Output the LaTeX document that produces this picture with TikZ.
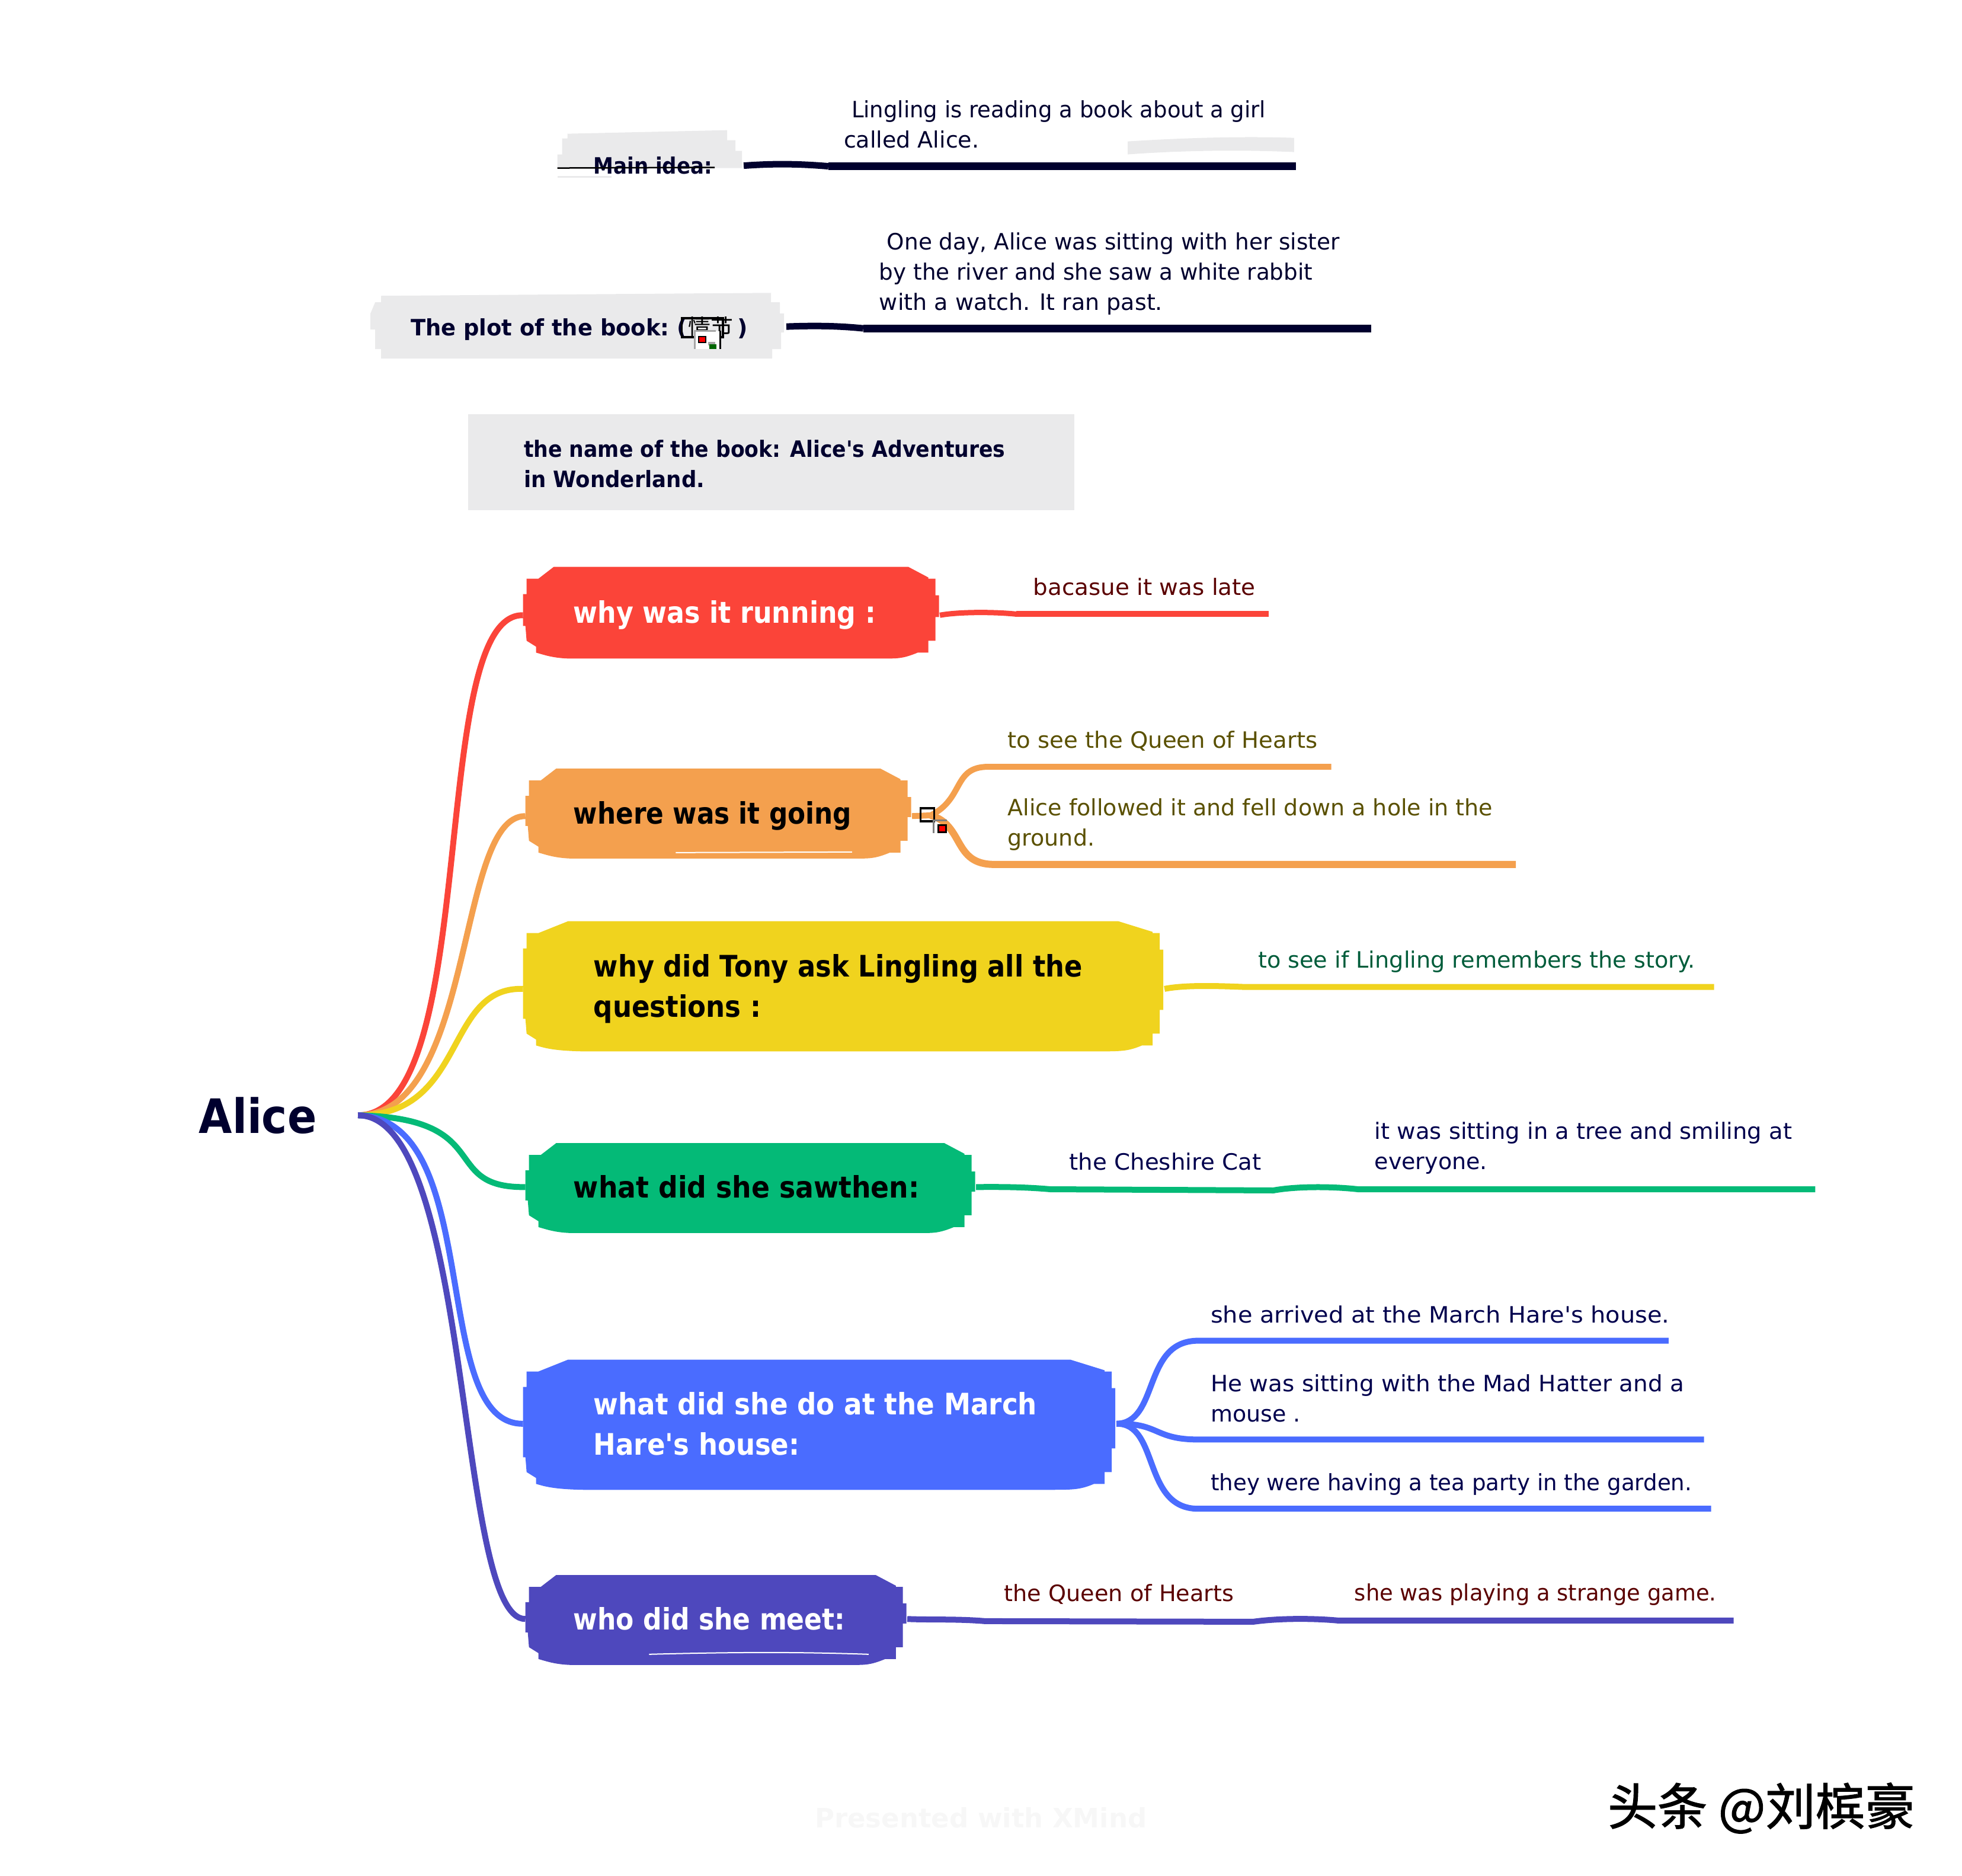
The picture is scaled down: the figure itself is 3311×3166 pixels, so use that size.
\documentclass[tikz,border=0pt]{standalone}
\usepackage{fontspec}
\usepackage{graphicx}
\setmainfont{DejaVu Sans}
\newfontfamily\plain{DejaVu Sans}
\newfontfamily\cjk{Noto Sans CJK SC}
\newfontfamily\cjkheavy[FakeBold=1.5]{Noto Sans CJK SC}
\newfontfamily\topicfont[FakeStretch=0.95,WordSpace=0.55]{DejaVu Sans Bold}
\usetikzlibrary{calc}
\definecolor{navy}{HTML}{00002E}
\definecolor{panel}{HTML}{EAEAEB}
\definecolor{cred}{HTML}{FB4439}
\definecolor{corange}{HTML}{F4A04E}
\definecolor{cyellow}{HTML}{F0D31E}
\definecolor{cgreen}{HTML}{04BA77}
\definecolor{cblue}{HTML}{4A6CFF}
\definecolor{cpurple}{HTML}{4E48BD}
\definecolor{tred}{HTML}{5A0000}
\definecolor{tolive}{HTML}{5A5000}
\definecolor{tgreen}{HTML}{005C3A}
\definecolor{tnavy}{HTML}{00004D}
\newcommand{\sx}[2]{\scalebox{#1}[1]{#2}}
\tikzset{
  x=0.9985pt,y=-0.9985pt,
  leaf/.style={inner sep=0pt,anchor=west,align=left,font=\plain\fontsize{38}{51}\selectfont},
  heading/.style={inner sep=0pt,anchor=west,align=left,text=navy,font=\plain\bfseries\fontsize{38}{51}\selectfont},
  topictext/.style={align=left,font=\topicfont\fontsize{50}{68}\selectfont},
  navylink/.style={line width=13pt,draw=navy},
}
\def\topinset{52}
\def\botinset{76}
\def\ts{0}
% name, x1, y1, x2, y2, colour, text colour, left padding, text
\newcommand{\topicbox}[9]{%
  \fill[#6] ({#2+\topinset},#3) -- ({#4-\topinset},#3) -- ({#4-18},{#3+18}) -- ({#4-18},{#3+20}) -- ({#4-6},{#3+20})
    -- ({#4-6},{#3+48}) -- (#4,{#3+48}) -- (#4,{#5-70}) -- ({#4-6},{#5-70}) -- ({#4-6},{#5-30})
    -- ({#4-18},{#5-30}) -- ({#4-18},{#5-10}) -- ({#4-36},{#5-10}) .. controls ({#4-60},#5) and ({#4-70},#5) .. ({#4-\botinset-14},#5)
    -- ({#2+\botinset},#5) .. controls ({#2+50},{#5-1}) and ({#2+36},{#5-6}) .. ({#2+22},{#5-10})
    -- ({#2+22},{#5-20}) -- ({#2+6},{#5-30}) -- ({#2+4},{#5-55}) -- (#2,{#5-55}) -- (#2,{#3+46})
    -- ({#2+6},{#3+46}) -- ({#2+6},{#3+20}) -- ({#2+26},{#3+20}) -- cycle;
  \pgfmathsetlengthmacro{\tw}{#4-#2-2*#8}
  \pgfmathsetlengthmacro{\th}{#5-#3}
  \node[topictext,text=#7,inner xsep=#8pt,inner ysep=0pt,text width=\tw,minimum height=\th,anchor=north west,yshift=\ts pt] (#1) at (#2,#3) {#9};
}
\begin{document}
\begin{tikzpicture}
\useasboundingbox (0pt,0pt) rectangle (3311pt,-3166pt);

% Top panels
\fill[panel] (959,226) -- (1229,220) -- (1229,237) -- (1243,237) -- (1243,255) -- (1254,255) -- (1254,284)
  -- (942,284) -- (942,261) -- (950,261) -- (950,234) -- (959,234) -- cycle;
\fill[panel] (942,297) rectangle (1034,300);
\fill[panel] (1906,239) .. controls (2000,233) and (2100,230) .. (2187,233) -- (2187,257)
  .. controls (2100,253) and (2000,254) .. (1906,261) -- cycle;
\fill[panel] (644,500) -- (1303,495) -- (1303,511) -- (1318,511) -- (1318,530) -- (1325,530) -- (1325,562)
  -- (1320,562) -- (1320,590) -- (1305,590) -- (1305,606) -- (644,606) -- (644,590) -- (634,590) -- (634,557)
  -- (626,557) -- (626,530) -- (634,511) -- (644,511) -- cycle;

\node[heading] (mainidea) at (1003,280) {\sx{.895}{Main idea:}};
\draw[line width=2.5pt,black] (942,284) -- (1208,283);
\node[leaf,text=navy] (maintext) at (1426,210) {\hspace{13pt}\sx{.973}{Lingling is reading a book about a girl}\\called Alice.};
\coordinate (mainA) at (1400,281);
\coordinate (mainB) at (2190,281);
\draw[navy,line width=11pt] ([xshift=53pt]mainidea.east) .. controls (1300,277) and (1340,276) .. (mainA);
\draw[navylink] (mainA) -- (mainB);

\node[heading] (plot) at (694,555) {\sx{.97}{The plot of the book:} ({\hspace{2pt}\cjk\mdseries\color{black}\fontsize{38}{51}\selectfont 情节}\hspace{7pt})};
\draw[black,line width=3.5pt] (1152,538) rectangle (1222,570);
\fill[white] (1173,560) rectangle (1218,590);
\draw[gray!70,line width=3pt] (1174,590) -- (1174,559) -- (1210,559);
\draw[black,line width=3pt] (1217,559) -- (1217,590);
\fill[black] (1180,568) rectangle (1194,580);
\fill[red] (1182,570) rectangle (1192,578);
\fill[gray!70] (1197,578) rectangle (1209,584);
\fill[black!60!green] (1199,582) rectangle (1211,590);
\node[leaf,text=navy] (plottext) at (1486,463) {\hspace{13pt}\sx{.984}{One day, Alice was sitting with her sister}\\\sx{.98}{by the river and she saw a white rabbit}\\with a watch. It ran past.};
\coordinate (plotA) at (1459,555);
\coordinate (plotB) at (2317,555);
\draw[navy,line width=11pt] (plot.east -| 1329,0) ++(0,-3) .. controls (1380,550) and (1420,551) .. (plotA);
\draw[navylink] (plotA) -- (plotB);

\node[fill=panel,minimum width=1023pt,minimum height=162pt,inner sep=0pt,anchor=north west] (bookname) at (791,700) {};
\node[heading,xshift=94pt,yshift=-3pt] (booktext) at (bookname.west) {\sx{.912}{the name of the book: Alice's Adventures}\\\sx{.935}{in Wonderland.}};

% Root
\node[inner sep=0pt,anchor=west,text=navy,font=\plain\bfseries\fontsize{80}{90}\selectfont] (alice) at (336,1885) {\sx{.91}{Alice}};
\coordinate (root) at (605,1885);

% Topics
\def\ts{-4}
\topicbox{t1}{884}{958}{1587}{1113}{cred}{white}{85}{\sx{.933}{why was it running :}}
\topicbox{t2}{888}{1299}{1540}{1451}{corange}{black}{81}{\sx{.921}{where was it going}}
\def\topinset{76}\def\botinset{102}
\topicbox{t3}{884}{1557}{1966}{1777}{cyellow}{black}{119}{\sx{.941}{why did Tony ask Lingling all the}\\\sx{.95}{questions :}}
\def\ts{2}\def\topinset{52}\def\botinset{76}
\topicbox{t4}{888}{1932}{1648}{2084}{cgreen}{black}{81}{\sx{.962}{what did she sawthen:}}
\def\topinset{76}\def\botinset{102}
\topicbox{t5}{884}{2298}{1885}{2518}{cblue}{white}{119}{\sx{.952}{what did she do at the March}\\\sx{.948}{Hare's house:}}
\def\topinset{52}\def\botinset{76}
\topicbox{t6}{888}{2662}{1532}{2814}{cpurple}{white}{81}{\sx{.927}{who did she meet:}}
\draw[white,line width=2pt] (1142,1441) -- (1440,1440);
\draw[white,line width=2pt] (1097,2796) .. controls (1250,2792) and (1350,2792) .. (1468,2796);

% Root branches
\draw[cred,line width=10pt] (root) .. controls (815,1885) and (721,1036) .. (t1.west);
\draw[corange,line width=10pt] (root) .. controls (804,1885) and (770,1378) .. (t2.west);
\draw[cyellow,line width=10pt] (root) .. controls (790,1885) and (750,1667) .. (t3.west);
\draw[cgreen,line width=10pt] (root) .. controls (840,1890) and (740,2008) .. (t4.west);
\draw[cblue,line width=10pt] (root) .. controls (821,1890) and (723,2408) .. (t5.west);
\draw[cpurple,line width=10pt] (root) .. controls (800,1885) and (770,2738) .. (t6.west);

% Red branch
\coordinate (r1) at (1718,1038);
\coordinate (r2) at (2144,1038);
\node[leaf,text=tred] (rt) at (1746,992) {\sx{1.023}{bacasue it was late}};
\draw[cred,line width=9pt] (t1.east) .. controls (1620,1034) and (1680,1034) .. (r1);
\draw[cred,line width=10pt] (r1) -- (r2);

% Orange branch
\coordinate (oj) at (1573,1378);
\coordinate (o1) at (1670,1296);
\coordinate (o1e) at (2250,1296);
\coordinate (o2) at (1680,1461);
\coordinate (o2e) at (2562,1461);
\draw[corange,line width=10pt] (t2.east) -- (oj);
\draw[corange,line width=10pt] (oj) .. controls (1630,1350) and (1610,1296) .. (o1) -- (o1e);
\draw[corange,line width=12pt] (oj) .. controls (1630,1395) and (1610,1461) .. (o2) -- (o2e);
\draw[black,line width=3.5pt] (1556,1366) rectangle (1579,1388);
\draw[gray,line width=3pt] (1578,1408) -- (1578,1387) -- (1600,1387);
\fill[black] (1584,1393) rectangle (1600,1408);
\fill[red] (1587,1396) rectangle (1597,1405);
\node[leaf,text=tolive] (ot1) at (1703,1252) {\sx{1.016}{to see the Queen of Hearts}};
\node[leaf,text=tolive] (ot2) at (1703,1394) {Alice followed it and fell down a hole in the\\ground.};

% Yellow branch
\coordinate (y1) at (2100,1668);
\coordinate (y2) at (2897,1668);
\draw[cyellow,line width=10pt] (t3.east) .. controls (2000,1665) and (2050,1666) .. (y1) -- (y2);
\node[leaf,text=tgreen] (yt) at (2126,1625) {\sx{1.005}{to see if Lingling remembers the story.}};

% Green branch
\coordinate (g0) at (1775,2010);
\coordinate (g1) at (2152,2012);
\coordinate (g2) at (2295,2010);
\coordinate (g3) at (3068,2010);
\draw[cgreen,line width=10pt] (t4.east) .. controls (1690,2006) and (1730,2006) .. (g0) -- (g1) .. controls (2190,2005) and (2250,2005) .. (g2) -- (g3);
\node[leaf,text=tnavy] (gt1) at (1807,1963) {\sx{1.02}{the Cheshire Cat}};
\node[leaf,text=tnavy] (gt2) at (2323,1940) {\sx{1.012}{it was sitting in a tree and smiling at}\\everyone.};

% Blue branch
\coordinate (b1) at (2025,2266);
\coordinate (b1e) at (2820,2266);
\coordinate (b2) at (2025,2433);
\coordinate (b2e) at (2880,2433);
\coordinate (b3) at (2025,2550);
\coordinate (b3e) at (2892,2550);
\draw[cblue,line width=10pt] (t5.east) .. controls (1960,2405) and (1930,2266) .. (b1) -- (b1e);
\draw[cblue,line width=10pt] (t5.east) .. controls (1960,2405) and (1950,2433) .. (b2) -- (b2e);
\draw[cblue,line width=10pt] (t5.east) .. controls (1960,2405) and (1930,2550) .. (b3) -- (b3e);
\node[leaf,text=tnavy] (bt1) at (2046,2222) {\sx{1.05}{she arrived at the March Hare's house.}};
\node[leaf,text=tnavy] (bt2) at (2046,2363) {\sx{1.024}{He was sitting with the Mad Hatter and a}\\mouse .};
\node[leaf,text=tnavy] (bt3) at (2046,2509) {\sx{.977}{they were having a tea party in the garden.}};

% Purple branch
\coordinate (p0) at (1665,2740);
\coordinate (p1) at (2118,2741);
\coordinate (p2) at (2262,2739);
\coordinate (p3) at (2930,2739);
\draw[cpurple,line width=10pt] (t6.east) .. controls (1570,2738) and (1620,2736) .. (p0) -- (p1) .. controls (2160,2735) and (2220,2735) .. (p2) -- (p3);
\node[leaf,text=tred] (pt1) at (1697,2695) {\sx{1.005}{the Queen of Hearts}};
\node[leaf,text=tred] (pt2) at (2289,2695) {\sx{.97}{she was playing a strange game.}};

% Footer
\node[inner sep=0pt,anchor=west,text=black!3,font=\plain\bfseries\fontsize{45}{50}\selectfont] (xmind) at (1377,3072) {Presented with XMind};
\node[inner sep=0pt,anchor=west,text=black,font=\cjkheavy\fontsize{84}{90}\selectfont] (mark) at (2717,3056) {头条 @刘槟豪};
\end{tikzpicture}
\end{document}
